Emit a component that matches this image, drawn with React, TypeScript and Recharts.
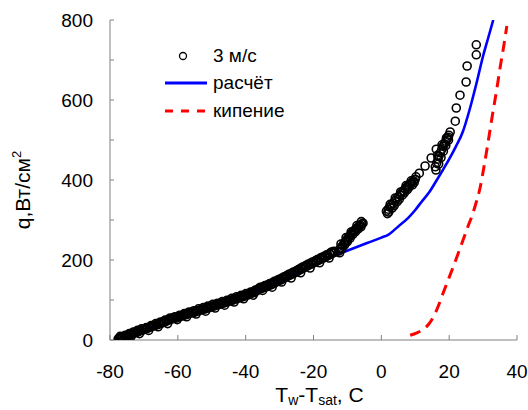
import { ComposedChart, Line, Scatter, XAxis, YAxis, Legend, Label } from 'recharts';

// 3 м/с measured points [Tw-Tsat, q]
const measured: [number, number][] = [
  [-77.6, 3], [-77.2, 5], [-76.8, 4], [-76.3, 6], [-75.8, 8], [-75.2, 9], [-74.6, 11], [-74.0, 13],
  [-73.4, 15], [-72.8, 17], [-72.2, 19], [-71.6, 21], [-71.0, 23], [-70.3, 25], [-69.6, 27], [-68.9, 29],
  [-68.2, 32], [-67.5, 34], [-66.8, 36], [-66.1, 38], [-65.4, 40], [-64.7, 42], [-64.0, 45], [-63.3, 47],
  [-62.6, 50], [-61.9, 52], [-61.2, 54], [-60.5, 55], [-59.8, 57], [-59.1, 59], [-58.4, 61], [-57.7, 63],
  [-57.0, 65], [-56.3, 67], [-55.6, 68], [-54.9, 70], [-54.2, 72], [-53.5, 74], [-52.8, 76], [-52.1, 77],
  [-51.4, 79], [-50.7, 81], [-50.0, 83], [-49.3, 85], [-48.6, 87], [-47.9, 89], [-47.2, 90], [-46.5, 92],
  [-45.8, 94], [-45.1, 96], [-44.4, 98], [-43.7, 100], [-43.0, 102], [-42.3, 104], [-41.6, 106], [-40.9, 108],
  [-40.2, 110], [-39.5, 112], [-38.8, 114], [-38.1, 117], [-37.4, 119], [-36.7, 123], [-36.0, 127], [-35.3, 129],
  [-34.6, 131], [-33.9, 133], [-33.2, 136], [-32.5, 138], [-31.8, 141], [-31.1, 144], [-30.4, 147], [-29.7, 150],
  [-29.0, 153], [-28.3, 156], [-27.6, 159], [-26.9, 162], [-26.2, 165], [-25.5, 168], [-24.8, 171], [-24.1, 175],
  [-23.4, 178], [-22.7, 181], [-22.0, 184], [-21.3, 187], [-20.6, 190], [-19.9, 193], [-19.2, 196], [-18.5, 199],
  [-17.8, 202], [-17.1, 205], [-16.4, 208], [-15.7, 211], [-15.0, 214], [-14.3, 217], [-13.8, 219],
  [-77.0, 9], [-75.5, 12], [-74.3, 16], [-73.1, 20], [-71.9, 24], [-70.7, 28], [-69.3, 31], [-67.9, 36],
  [-66.5, 41], [-65.1, 45], [-63.7, 50], [-62.3, 55], [-60.9, 58], [-59.5, 62], [-58.1, 66], [-56.7, 70],
  [-55.3, 73], [-53.9, 78], [-52.5, 81], [-51.1, 85], [-49.7, 89], [-48.3, 92], [-46.9, 96], [-45.5, 99],
  [-44.1, 104], [-42.7, 108], [-41.3, 112], [-39.9, 116], [-38.5, 120], [-37.1, 125], [-35.7, 132], [-34.3, 136],
  [-32.9, 141], [-31.5, 147], [-30.1, 152], [-28.7, 158], [-27.3, 164], [-25.9, 170], [-24.5, 176], [-23.1, 183],
  [-21.7, 189], [-20.3, 195], [-18.9, 201], [-17.5, 207], [-16.1, 213], [-14.7, 220],
  [-76.0, 3], [-73.7, 10], [-71.3, 16], [-68.6, 24], [-65.8, 33], [-63.0, 41], [-60.2, 51], [-57.4, 58],
  [-54.6, 65], [-51.8, 72], [-49.0, 80], [-46.2, 87], [-43.4, 95], [-40.6, 103], [-37.8, 112], [-35.0, 124],
  [-32.2, 132], [-29.4, 145], [-26.6, 155], [-23.8, 168], [-21.0, 180], [-18.2, 193], [-15.4, 205],
  [-76.6, 7], [-75.0, 12], [-73.9, 15], [-72.5, 20], [-71.2, 24], [-69.9, 28], [-68.4, 32], [-67.1, 37],
  [-65.6, 42], [-64.3, 46], [-62.9, 51], [-61.5, 55], [-60.0, 58], [-58.7, 62], [-57.3, 66], [-55.9, 70],
  [-54.5, 73], [-53.1, 77], [-51.7, 81], [-50.3, 85], [-48.9, 88], [-47.5, 92], [-46.1, 96], [-44.7, 100],
  [-43.3, 104], [-41.9, 108], [-40.5, 112], [-39.1, 116], [-37.7, 121], [-36.3, 128], [-34.9, 133], [-33.5, 138],
  [-32.1, 143], [-30.7, 149], [-29.3, 155], [-27.9, 161], [-26.5, 167], [-25.1, 173], [-23.7, 180], [-22.3, 186],
  [-20.9, 192], [-19.5, 198], [-18.1, 204], [-16.7, 210], [-15.3, 216], [-14.0, 222],
  [-12.6, 222], [-12.2, 228], [-11.8, 232], [-11.4, 236], [-11.0, 242], [-10.6, 246], [-10.2, 250], [-9.8, 255],
  [-9.4, 259], [-9.0, 263], [-8.6, 268], [-8.2, 272], [-7.8, 275], [-7.4, 278], [-7.0, 281], [-6.6, 284],
  [-6.2, 287], [-5.8, 290], [-5.4, 292],
  [-12.3, 218], [-11.6, 228], [-10.8, 238], [-10.0, 246], [-9.2, 255], [-8.4, 264], [-7.6, 271], [-6.8, 278],
  [-6.0, 283], [-11.9, 240], [-10.4, 256], [-8.9, 270], [-7.2, 286], [-5.9, 296],
  [1.5, 322], [2.0, 327], [2.5, 332], [3.0, 337], [3.5, 342], [4.0, 348], [4.5, 353], [5.0, 358],
  [5.5, 363], [6.0, 368], [6.5, 373], [7.0, 378], [7.5, 382], [8.0, 386], [8.5, 390], [9.0, 394],
  [9.5, 398], [10.0, 402],
  [1.8, 316], [3.2, 330], [4.7, 346], [6.2, 362], [7.7, 376], [9.2, 388], [2.6, 339], [4.1, 355],
  [5.7, 370], [7.3, 386], [8.8, 398], [10.2, 408],
  [2.2, 320], [3.8, 336], [5.3, 352], [6.8, 368], [8.2, 382], [9.7, 394],
  [11.2, 417], [12.9, 435], [14.7, 455], [16.2, 477],
  [15.9, 433], [16.3, 442], [16.7, 452], [17.0, 460], [17.4, 468], [17.8, 476], [18.2, 484], [18.6, 490],
  [19.0, 497], [19.4, 503], [19.7, 507],
  [16.1, 425], [16.9, 440], [17.6, 456], [18.3, 472], [19.0, 486], [19.8, 500], [16.6, 462], [17.9, 488],
  [19.2, 505], [19.9, 512],
  [20.3, 520], [21.8, 547], [22.1, 580], [23.2, 612], [25.0, 645], [25.3, 685], [28.0, 713], [28.0, 738],
];

// расчёт
const calc: [number, number][] = [
  [-77, 6], [-70, 24], [-60, 52], [-50, 80], [-44, 100], [-36, 126], [-30, 148], [-24, 173],
  [-20, 189], [-16, 204], [-12, 217], [-8, 230], [-4, 243], [0, 256], [2, 263], [5, 284],
  [8, 306], [10, 325], [12, 347], [14, 368], [16, 395], [18, 423], [20, 452], [22, 484],
  [24, 520], [26, 575], [28, 640], [30, 710], [31.5, 755], [33, 800],
];

// кипение
const boiling: [number, number][] = [
  [8.5, 12], [10.5, 18], [12.3, 26], [14, 40], [15.3, 57], [16.8, 85], [18.2, 117], [19.7, 150],
  [21.2, 183], [22.6, 215], [24.1, 250], [25.5, 283], [26.8, 312], [28, 345], [29.1, 380], [30.2, 430],
  [31.2, 480], [32.1, 528], [33, 575], [34, 625], [35, 680], [36, 730], [37, 785],
];

const xTicks = [-80, -60, -40, -20, 0, 20, 40];
const yTicks = [0, 100, 200, 300, 400, 500, 600, 700, 800];

const toRows = (pts: [number, number][]) => pts.map(([x, y]) => ({ x, y }));

const FONT = '"Liberation Sans", Arial, sans-serif';
const AXIS = '#808080';

const XTick = (p: any) => (
  <g>
    <line x1={p.x} x2={p.x} y1={p.y} y2={p.y - 5} stroke={AXIS} />
    <text x={p.x} y={p.y + 38} textAnchor="middle" fontSize={19} fontFamily={FONT} fill="#000">
      {p.payload.value}
    </text>
  </g>
);

const YTick = (p: any) => (
  <g>
    <line x1={p.x} x2={p.x + 4} y1={p.y} y2={p.y} stroke={AXIS} />
    {p.payload.value % 200 === 0 && (
      <text x={p.x - 17} y={p.y + 7} textAnchor="end" fontSize={19} fontFamily={FONT} fill="#000">
        {p.payload.value}
      </text>
    )}
  </g>
);

const YTitle = (p: any) => {
  const vb = p.viewBox;
  const cx = vb.x + 30;
  const cy = vb.y + vb.height / 2 + 10;
  return (
    <text x={cx} y={cy} transform={`rotate(-90 ${cx} ${cy})`} textAnchor="middle" fontSize={21} fontFamily={FONT} fill="#000">
      q,Вт/см<tspan dy={-9} fontSize={13}>2</tspan>
    </text>
  );
};

const XTitle = (p: any) => {
  const vb = p.viewBox;
  const cx = vb.x + vb.width / 2 + 6;
  const cy = vb.y + 62;
  return (
    <text x={cx} y={cy} textAnchor="middle" fontSize={21} fontFamily={FONT} fill="#000">
      T<tspan dy={3} fontSize={14}>w</tspan>
      <tspan dy={-3}>-T</tspan>
      <tspan dy={3} fontSize={14}>sat</tspan>
      <tspan dy={-3}>, C</tspan>
    </text>
  );
};

const LegendBox = () => (
  <svg width={160} height={90} style={{ display: 'block' }}>
    <circle cx={23} cy={16} r={3.5} fill="none" stroke="#000" strokeWidth={1.3} />
    <text x={53} y={22} fontSize={19} fontFamily={FONT}>3 м/с</text>
    <line x1={5} x2={47} y1={43} y2={43} stroke="#0000ff" strokeWidth={3} />
    <text x={53} y={49} fontSize={19} fontFamily={FONT}>расчёт</text>
    <line x1={5} x2={47} y1={71} y2={71} stroke="#ff0000" strokeWidth={3} strokeDasharray="8 8" />
    <text x={53} y={77} fontSize={19} fontFamily={FONT}>кипение</text>
  </svg>
);

const Ring = (p: any) => <circle cx={p.cx} cy={p.cy} r={4} fill="none" stroke="#000" strokeWidth={1.6} />;

export default function App() {
  return (
    <div style={{ position: 'absolute', left: 0, top: 0, background: '#fff' }}>
      <ComposedChart width={528} height={410} margin={{ top: 20, right: 11, bottom: 0, left: 0 }}>
        <XAxis
          type="number"
          dataKey="x"
          domain={[-80, 40]}
          ticks={xTicks}
          height={70}
          axisLine={{ stroke: AXIS }}
          tickLine={false}
          tickSize={0}
          tickMargin={0}
          tick={<XTick />}
          allowDataOverflow
        >
          <Label content={<XTitle />} />
        </XAxis>
        <YAxis
          type="number"
          dataKey="y"
          domain={[0, 800]}
          ticks={yTicks}
          width={110}
          axisLine={{ stroke: AXIS }}
          tickLine={false}
          tickSize={0}
          tickMargin={0}
          tick={<YTick />}
          allowDataOverflow
        >
          <Label content={<YTitle />} />
        </YAxis>
        <Legend
          layout="horizontal"
          verticalAlign="middle"
          content={<LegendBox />}
          wrapperStyle={{ left: 160, top: 40, width: 160, height: 90 }}
        />
        <Line data={toRows(calc)} dataKey="y" type="monotone" stroke="#0000ff" strokeWidth={2.6} dot={false} isAnimationActive={false} />
        <Line data={toRows(boiling)} dataKey="y" type="monotone" stroke="#ff0000" strokeWidth={3} strokeDasharray="11 7" dot={false} isAnimationActive={false} />
        <Scatter data={toRows(measured)} dataKey="y" shape={<Ring />} isAnimationActive={false} />
      </ComposedChart>
    </div>
  );
}
